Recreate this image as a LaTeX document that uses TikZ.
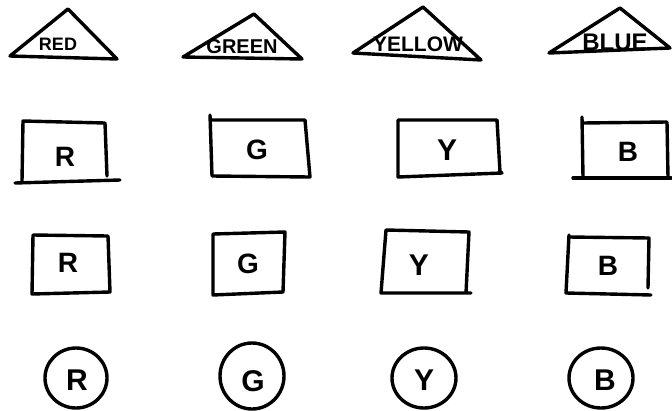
\documentclass[tikz,border=0pt]{standalone}
\usepackage{fontspec}
\setmainfont{Liberation Sans}
\begin{document}
\begin{tikzpicture}[x=1pt,y=-1pt,
  ink/.style={draw=black, line width=3.4pt, line join=round, line cap=round},
  lbl/.style={inner sep=0pt, font=\bfseries\fontsize{28}{28}\selectfont},
  tri/.style={inner sep=0pt}]
\useasboundingbox (0,0) rectangle (672,410);

% ---------- row 1: triangles ----------
\draw[ink] (10,56) -- (68,9) -- (117,59) -- cycle;
\node[tri, font=\bfseries\fontsize{18}{18}\selectfont] (tred) at (58,44) {RED};

\draw[ink] (183,57) -- (254,14) -- (302,59) -- cycle;
\node[tri, font=\bfseries\fontsize{20}{20}\selectfont] (tgreen) at (242,47) {GREEN};

\draw[ink] (353,53) -- (423,7) -- (481,60) -- cycle;
\node[tri, font=\bfseries\fontsize{21}{21}\selectfont] (tyellow) at (418,44) {YELLOW};

\draw[ink] (549,53) -- (620,8) -- (670,48) -- cycle;
\node[tri, font=\bfseries\fontsize{24}{24}\selectfont] (tblue) at (615,42) {BLUE};

% ---------- row 2: boxes ----------
\draw[ink] (22,181) -- (23,121) -- (105,123) -- (107,176);
\draw[ink] (15,183) -- (120,180);
\node[lbl] (r2) at (65,157) {R};

\draw[ink] (210,115) -- (212,176) -- (310,177) -- (305,120) -- (212,120);
\node[lbl] (g2) at (257,150) {G};

\draw[ink] (398,120) -- (497,120) -- (500,172) -- (502,173) -- (398,177) -- cycle;
\node[lbl, font=\bfseries\fontsize{30}{30}\selectfont] (y2) at (447,150) {Y};

\draw[ink] (582,117) -- (583,177);
\draw[ink] (583,123) -- (667,122) -- (668,177);
\draw[ink] (573,178) -- (671,178);
\node[lbl] (b2) at (628,152) {B};

% ---------- row 3: boxes ----------
\draw[ink] (33,235) -- (108,236) -- (110,292) -- (32,294) -- cycle;
\node[lbl] (r3) at (68,263) {R};

\draw[ink] (213,234) -- (285,232) -- (283,292) -- (213,295) -- cycle;
\node[lbl] (g3) at (248,264) {G};

\draw[ink] (386,230) -- (469,232) -- (466,293) -- (471,293) -- (381,293) -- cycle;
\node[lbl, font=\bfseries\fontsize{30}{30}\selectfont] (y3) at (419,265) {Y};

\draw[ink] (569,237) -- (649,238) -- (648,288);
\draw[ink] (569,235) -- (566,293) -- (651,295);
\node[lbl] (b3) at (608,266) {B};

% ---------- row 4: circles ----------
\draw[ink] (76,378) ellipse [x radius=31, y radius=30];
\node[lbl, font=\bfseries\fontsize{30}{30}\selectfont] (r4) at (77,380) {R};

\draw[ink] (252,376) ellipse [x radius=32, y radius=33];
\node[lbl, font=\bfseries\fontsize{30}{30}\selectfont] (g4) at (253,381) {G};

\draw[ink] (424,378) ellipse [x radius=32, y radius=30];
\node[lbl, font=\bfseries\fontsize{30}{30}\selectfont] (y4) at (424,380) {Y};

\draw[ink] (601,378) ellipse [x radius=32, y radius=30];
\node[lbl, font=\bfseries\fontsize{30}{30}\selectfont] (b4) at (605,380) {B};
\end{tikzpicture}
\end{document}
